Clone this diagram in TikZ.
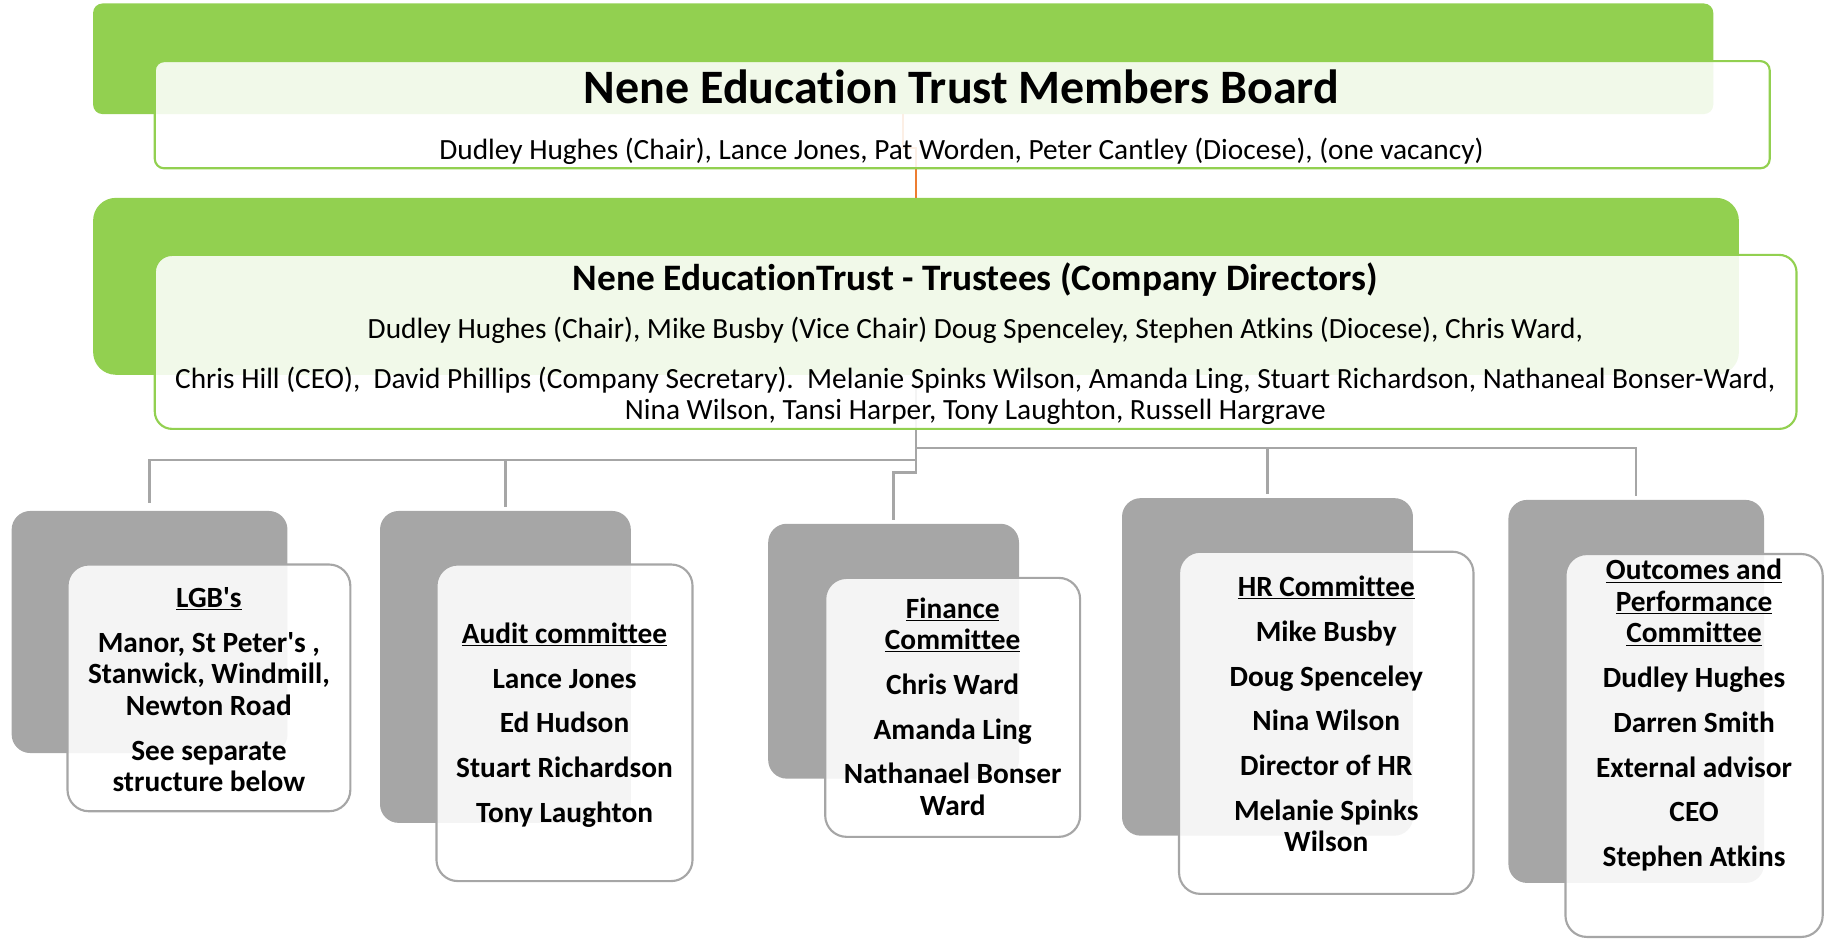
\documentclass[tikz,border=0pt]{standalone}
\usepackage{fontspec}
\setmainfont{Carlito}[Ligatures={NoCommon,NoContextual}]
\usetikzlibrary{fit}
\definecolor{trustgreen}{HTML}{92D050}
\definecolor{linkorange}{HTML}{ED7D31}
\definecolor{boxgrey}{HTML}{A6A6A6}

\begin{document}
\begin{tikzpicture}[x=0.873pt,y=-0.873pt,
		greenback/.style={fill=trustgreen,inner sep=0pt,outer sep=0pt},
		greenfront/.style={draw=trustgreen,line width=1.6pt,fill=white,fill opacity=0.88,inner sep=0pt,outer sep=0pt},
		greyback/.style={fill=boxgrey,rounded corners=14pt,inner sep=0pt,outer sep=0pt},
		greyfront/.style={draw=boxgrey,line width=1.6pt,fill=white,fill opacity=0.88,rounded corners=16pt,inner sep=0pt,outer sep=0pt},
		link/.style={draw=boxgrey,line width=1.8pt},
		orangelink/.style={draw=linkorange,line width=1.6pt},
		memtitle/.style={font=\bfseries\fontsize{36}{40}\selectfont},
		trutitle/.style={font=\bfseries\fontsize{28}{32}\selectfont},
		bodytxt/.style={font=\fontsize{22}{22.7}\selectfont,align=center,inner sep=0pt},
		comtxt/.style={font=\bfseries\fontsize{22}{23.6}\selectfont,align=center,inner sep=0pt}]
		\useasboundingbox (0,0) rectangle (1568,807.6);
		\node[greenback,rounded corners=7pt,fit={(80,3) (1472,98)}] (memB) {};
		\node[greenback,rounded corners=17pt,fit={(80,170) (1494,322)}] (truB) {};
		\draw[orangelink] (memB.south) -- ++(0,29) -| (truB.north);
		\node[greyback,fit={(10,439) (247,647)}] (lgbB) {};
		\node[greyback,fit={(326.5,439) (542,707)}] (audB) {};
		\node[greyback,fit={(660,450) (875.5,669)}] (finB) {};
		\node[greyback,fit={(964,428) (1214,718)}] (hrB) {};
		\node[greyback,fit={(1296,429.5) (1515.6,758.6)}] (outB) {};
		\draw[link,shorten >=3pt] (truB.south) -- ++(0,63) -| (outB.north);
		\draw[link,shorten >=3pt] (truB.south) ++(0,63) -| (hrB.north);
		\draw[link,shorten >=6pt] (truB.south) -- ++(0,73) -| (lgbB.north);
		\draw[link,shorten >=3pt] (truB.south) ++(0,73) -| (audB.north);
		\draw[link,shorten >=3pt] (truB.south) -- ++(0,84) -| (finB.north);
		\node[greenfront,rounded corners=7pt,fit={(133,52.5) (1520.5,144.6)}] (memF) {};
		\node[greenfront,rounded corners=13pt,fit={(133,219) (1543.5,368.5)}] (truF) {};
		\node[greyfront,fit={(58,485) (301,697)}] (lgbF) {};
		\node[greyfront,fit={(375,485) (595,757)}] (audF) {};
		\node[greyfront,fit={(709,496.5) (928,719)}] (finF) {};
		\node[greyfront,fit={(1013,474) (1266,768)}] (hrF) {};
		\node[greyfront,fit={(1345,476) (1566,805)}] (outF) {};
		\node[memtitle] (memT) at (826,75) {Nene Education Trust Members Board};
		\node[bodytxt] (memS) at (826,130) {Dudley Hughes (Chair), Lance Jones, Pat Worden, Peter Cantley (Diocese), (one vacancy)};
		\node[trutitle] (truT) at (838,240) {Nene EducationTrust - Trustees (Company Directors)};
		\node[bodytxt] (truS) at (838,318.5) {Dudley Hughes (Chair), Mike Busby (Vice Chair) Doug Spenceley, Stephen Atkins (Diocese), Chris Ward,\\[14.8pt]
			Chris Hill (CEO),\ \ David Phillips (Company Secretary).\ \ Melanie Spinks Wilson, Amanda Ling, Stuart Richardson, Nathaneal Bonser-Ward,\\
			Nina Wilson, Tansi Harper, Tony Laughton, Russell Hargrave};
		\node[comtxt] (lgbT) at (179.5,592.5) {\underline{LGB\textquotesingle s}\\[10pt]
			Manor, St Peter\textquotesingle s ,\\ Stanwick, Windmill,\\ Newton Road\\[10pt]
			See separate\\ structure below};
		\node[comtxt] (audT) at (485,623) {\underline{Audit committee}\\[10pt] Lance Jones\\[10pt] Ed Hudson\\[10pt] Stuart Richardson\\[10pt] Tony Laughton};
		\node[comtxt] (finT) at (818.5,607) {\underline{Finance}\\ \underline{Committee}\\[10pt] Chris Ward\\[10pt] Amanda Ling\\[10pt] Nathanael Bonser\\ Ward};
		\node[comtxt] (hrT) at (1139.5,613.5) {\underline{HR Committee}\\[10pt] Mike Busby\\[10pt] Doug Spenceley\\[10pt] Nina Wilson\\[10pt] Director of HR\\[10pt] Melanie Spinks\\ Wilson};
		\node[comtxt] (outT) at (1455.5,614.5) {\underline{Outcomes and}\\ \underline{Performance}\\ \underline{Committee}\\[10pt] Dudley Hughes\\[10pt] Darren Smith\\[10pt] External advisor\\[10pt] CEO\\[10pt] Stephen Atkins};
	\end{tikzpicture}
\end{document}
